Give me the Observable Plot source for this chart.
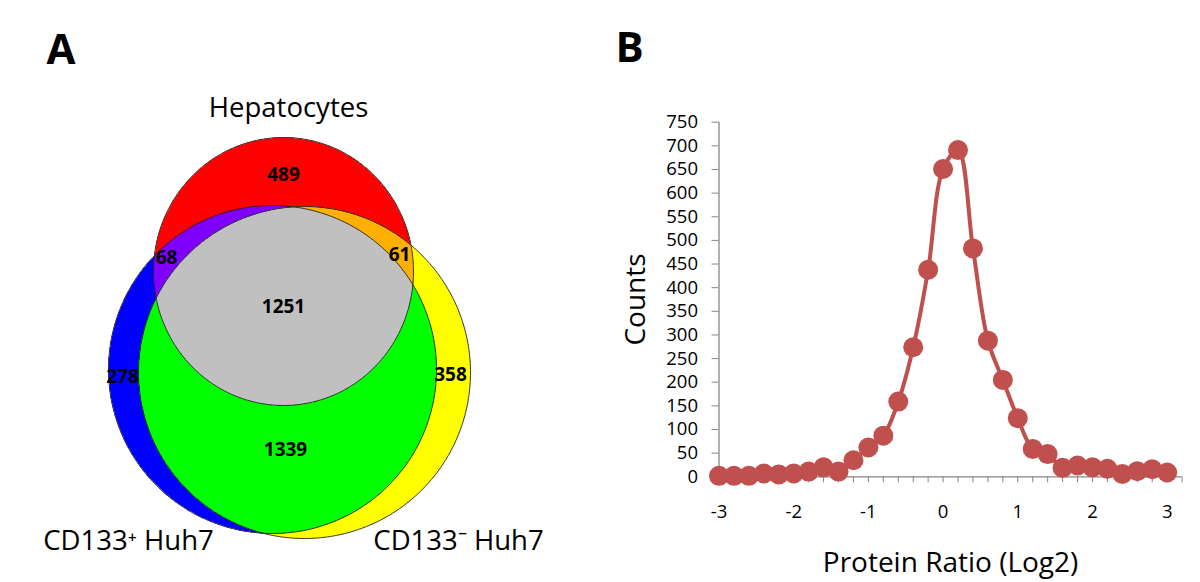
<!DOCTYPE html>
<html><head><meta charset="utf-8">
<script src="https://cdn.jsdelivr.net/npm/d3@7"></script>
<script src="https://cdn.jsdelivr.net/npm/@observablehq/plot@0.6"></script>
<style>
body{margin:0;background:#fff;}
#wrap{position:relative;width:1200px;height:582px;overflow:hidden;}
.panel{position:absolute;top:0;}
</style></head><body>
<div id="wrap"><div id="pa" class="panel" style="left:0"></div><div id="pb" class="panel" style="left:600px"></div></div>
<script>
// ---------- Panel A data (Venn diagram) ----------
const setNames = ["Hepatocytes", "CD133⁺ Huh7", "CD133⁻ Huh7"];
const regionKeys = ["H", "HP", "HN", "HPN", "P", "N", "PN"];
const regionCounts = [489, 68, 61, 1251, 278, 358, 1339];
const regionColors = ["#ff0000", "#8000ff", "#ffb000", "#c0c0c0", "#0000ff", "#ffff00", "#00ff00"];

// ---------- Panel B data (histogram line) ----------
const ratioLog2 = [-3.0,-2.8,-2.6,-2.4,-2.2,-2.0,-1.8,-1.6,-1.4,-1.2,-1.0,-0.8,-0.6,-0.4,-0.2,0.0,0.2,0.4,0.6,0.8,1.0,1.2,1.4,1.6,1.8,2.0,2.2,2.4,2.6,2.8,3.0];
const counts    = [2,2,2,7,5,7,11,20,11,35,62,87,159,274,438,651,691,483,288,205,124,59,48,19,24,20,17,6,12,16,9];
const xTickLabels = [-3,-2,-1,0,1,2,3];
const xMinorTicks = [-3.0,-2.8,-2.6,-2.4,-2.2,-2.0,-1.8,-1.6,-1.4,-1.2,-1.0,-0.8,-0.6,-0.4,-0.2,0.0,0.2,0.4,0.6,0.8,1.0,1.2,1.4,1.6,1.8,2.0,2.2,2.4,2.6,2.8,3.0,3.2];
const yTicks = [0,50,100,150,200,250,300,350,400,450,500,550,600,650,700,750];

// ---------- Layout (pixel geometry of panel A) ----------
const ellipses = {
  H: {cx: 283, cy: 271, rx: 130, ry: 134},
  P: {cx: 272, cy: 369, rx: 164, ry: 164},
  N: {cx: 304, cy: 372, rx: 166, ry: 166}
};
const setLabelPos = [{x: 288, y: 108}, {x: 128, y: 541}, {x: 458, y: 541}];
const regionLabelPos = {
  H: [283, 174], HP: [166, 257], HN: [399, 254], HPN: [283, 306],
  P: [122, 376], N: [450, 374], PN: [285, 449]
};

const FONT = "'Open Sans', sans-serif";
const inside = (e, x, y) => ((x - e.cx) / e.rx) ** 2 + ((y - e.cy) / e.ry) ** 2 <= 1;
const colorOf = Object.fromEntries(regionKeys.map((k, i) => [k, regionColors[i]]));
function regionFill(x, y) {
  const k = (inside(ellipses.H, x, y) ? "H" : "") + (inside(ellipses.P, x, y) ? "P" : "") + (inside(ellipses.N, x, y) ? "N" : "");
  return k ? colorOf[k] : "#ffffff";
}
const outline = [];
["H", "P", "N"].forEach(k => {
  const e = ellipses[k];
  for (let a = 0; a <= 360; a += 1) {
    const t = a * Math.PI / 180;
    outline.push({set: k, x: e.cx + e.rx * Math.cos(t), y: e.cy + e.ry * Math.sin(t)});
  }
});
const regionData = regionKeys.map((k, i) => ({key: k, count: regionCounts[i], x: regionLabelPos[k][0], y: regionLabelPos[k][1]}));
const setData = setNames.map((n, i) => ({name: n, ...setLabelPos[i]}));

const chartA = Plot.plot({
  width: 600, height: 582, margin: 0,
  x: {domain: [0, 600], range: [0, 600], axis: null},
  y: {domain: [0, 582], range: [0, 582], axis: null},
  color: {type: "identity"},
  style: {fontFamily: FONT, background: "white"},
  marks: [
    Plot.raster({fill: regionFill, x1: 0, x2: 600, y1: 0, y2: 582, pixelSize: 1}),
    Plot.line(outline, {x: "x", y: "y", z: "set", stroke: "#222", strokeWidth: 0.9}),
    Plot.text(regionData, {x: "x", y: "y", text: d => String(d.count), fontWeight: "bold", fontSize: 19, fill: "black"}),
    Plot.text(setData, {x: "x", y: "y", text: "name", fontSize: 27.5, fill: "black"}),
    Plot.text(["A"], {x: 46, y: 50, textAnchor: "start", lineAnchor: "middle", fontSize: 42, fontWeight: "bold", fill: "black"})
  ]
});
document.getElementById("pa").appendChild(chartA);

// ---------- Panel B ----------
const pts = ratioLog2.map((r, i) => ({r, c: counts[i]}));
const axisGray = "#868686";
const red = "#c0504d";
const chartB = Plot.plot({
  width: 600, height: 582,
  marginLeft: 118.5, marginRight: 18.4, marginTop: 121.7, marginBottom: 105.7,
  x: {domain: [xMinorTicks[0], xMinorTicks[xMinorTicks.length - 1]]},
  y: {domain: [yTicks[0], yTicks[yTicks.length - 1]]},
  style: {fontFamily: FONT, fontSize: "18.5px", color: "black", background: "white"},
  marks: [
    Plot.axisY({ticks: yTicks, tickSize: 7, tickPadding: 14, stroke: axisGray, fill: "black", label: null, tickFormat: d => String(d)}),
    Plot.axisX({ticks: xMinorTicks, tickSize: 6, stroke: axisGray, tickFormat: () => "", label: null}),
    Plot.axisX({ticks: xTickLabels, tickSize: 0, tickPadding: 28, fill: "black", label: null, tickFormat: d => String(d)}),
    Plot.ruleX([xMinorTicks[0]], {stroke: axisGray, strokeWidth: 1.3}),
    Plot.ruleY([yTicks[0]], {stroke: axisGray, strokeWidth: 1.3}),
    Plot.line(pts, {x: "r", y: "c", stroke: red, strokeWidth: 4, curve: "catmull-rom"}),
    Plot.dot(pts, {x: "r", y: "c", r: 10, fill: red}),
    Plot.text(["Counts"], {frameAnchor: "left", dx: -83, rotate: -90, textAnchor: "middle", lineAnchor: "middle", fontSize: 28, fill: "black"}),
    Plot.text(["Protein Ratio (Log2)"], {frameAnchor: "bottom", dx: 0, dy: 86, textAnchor: "middle", lineAnchor: "middle", fontSize: 28, fill: "black"}),
    Plot.text(["B"], {frameAnchor: "top-left", dx: -103.5, dy: -73.7, textAnchor: "start", lineAnchor: "middle", fontSize: 42, fontWeight: "bold", fill: "black"})
  ]
});
document.getElementById("pb").appendChild(chartB);
</script>
</body></html>
